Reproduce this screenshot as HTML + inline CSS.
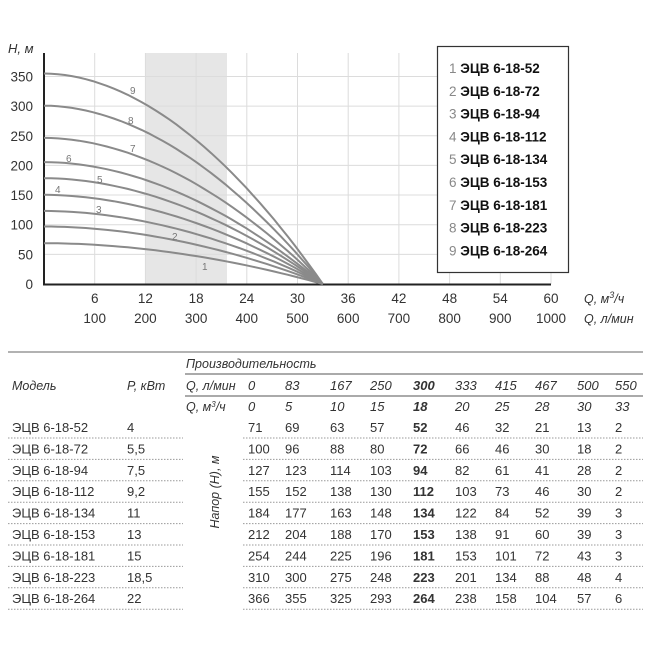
<!DOCTYPE html>
<html><head><meta charset="utf-8">
<style>
body{margin:0;background:#fff;width:650px;height:650px;overflow:hidden;font-family:"Liberation Sans",sans-serif;}
svg{position:absolute;left:0;top:0}
text{font-family:"Liberation Sans",sans-serif;}
</style></head><body>
<svg width="650" height="650" viewBox="0 0 650 650" id="s">
<rect x="145" y="53" width="82" height="231" fill="#e6e6e6"/>
<g id="grid" stroke="#dcdcdc" stroke-width="1"></g>
<line x1="44" y1="53" x2="44" y2="285" stroke="#222" stroke-width="2"/>
<line x1="43" y1="284.5" x2="551" y2="284.5" stroke="#222" stroke-width="2"/>
<g id="curves" fill="none" stroke="#8a8a8a" stroke-width="2"></g>
<g font-size="10" fill="#777">
<text x="130" y="94">9</text><text x="128" y="124">8</text><text x="130" y="152">7</text>
<text x="66" y="162">6</text><text x="97" y="183">5</text><text x="55" y="193">4</text>
<text x="96" y="213">3</text><text x="172" y="240">2</text><text x="202" y="270">1</text>
</g>
<text x="8" y="53" font-size="13" font-style="italic" fill="#333">H, м</text>
<g font-size="13.5" fill="#333" text-anchor="end" id="ylab"></g>
<g font-size="13.5" fill="#333" text-anchor="middle" id="xlab"></g>
<text x="584" y="303" font-size="12.5" font-style="italic" fill="#333">Q, м<tspan font-size="9" dy="-5">3</tspan><tspan dy="5">/ч</tspan></text>
<text x="584" y="323" font-size="12.5" font-style="italic" fill="#333">Q, л/мин</text>
<rect x="437.5" y="46.5" width="131" height="226" fill="#fff" stroke="#333" stroke-width="1.2"/>
<g font-size="13.5" font-weight="bold" fill="#111" id="leg"></g>

<line x1="8" y1="352" x2="643" y2="352" stroke="#999" stroke-width="1.5"/>
<g font-size="12.5" font-style="italic" fill="#333">
<text x="186" y="368">Производительность</text>
<text x="12" y="390">Модель</text>
<text x="127" y="390">P, кВт</text>
<text x="186" y="390">Q, л/мин</text>
<text x="186" y="411">Q, м<tspan font-size="8" dy="-4">3</tspan><tspan dy="4">/ч</tspan></text>
<text transform="translate(219,492) rotate(-90)" text-anchor="middle">Напор (H), м</text>
</g>
<line x1="185" y1="374" x2="643" y2="374" stroke="#555" stroke-width="1"/>
<line x1="185" y1="396" x2="643" y2="396" stroke="#555" stroke-width="1"/>
<g id="tab" font-size="13" fill="#333"></g>
</svg>
<script>
var NS="http://www.w3.org/2000/svg";
function el(p,t,a,txt){var e=document.createElementNS(NS,t);for(var k in a)e.setAttribute(k,a[k]);if(txt!==undefined)e.textContent=txt;p.appendChild(e);return e;}
var X=function(q){return 44+q*8.45},Y=function(h){return 284-h*0.593};
var g=document.getElementById('grid');
for(var i=1;i<=10;i++){var x=X(i*6);el(g,'line',{x1:x,y1:53,x2:x,y2:284});}
for(var h=50;h<=350;h+=50){el(g,'line',{x1:44,y1:Y(h),x2:437,y2:Y(h)});}
var yl=document.getElementById('ylab');
for(var h=0;h<=350;h+=50)el(yl,'text',{x:33,y:Y(h)+5},h);
var xl=document.getElementById('xlab');
for(var i=1;i<=10;i++){el(xl,'text',{x:X(i*6),y:303},i*6);el(xl,'text',{x:X(i*6),y:323},i*100);}
var Q=[0,5,10,15,18,20,25,28,30,33];
var D=[["ЭЦВ 6-18-52","4",[71,69,63,57,52,46,32,21,13,2]],
["ЭЦВ 6-18-72","5,5",[100,96,88,80,72,66,46,30,18,2]],
["ЭЦВ 6-18-94","7,5",[127,123,114,103,94,82,61,41,28,2]],
["ЭЦВ 6-18-112","9,2",[155,152,138,130,112,103,73,46,30,2]],
["ЭЦВ 6-18-134","11",[184,177,163,148,134,122,84,52,39,3]],
["ЭЦВ 6-18-153","13",[212,204,188,170,153,138,91,60,39,3]],
["ЭЦВ 6-18-181","15",[254,244,225,196,181,153,101,72,43,3]],
["ЭЦВ 6-18-223","18,5",[310,300,275,248,223,201,134,88,48,4]],
["ЭЦВ 6-18-264","22",[366,355,325,293,264,238,158,104,57,6]]];
var cg=document.getElementById('curves');
D.forEach(function(r){
 var top=r[2][0]*0.97;
 var pts=[];
 for(var k=0;k<=40;k++){var q=33*k/40;var t=q/33;var hh=top*(1-Math.pow(t,1.9));pts.push([X(q),Y(Math.max(hh,0))]);}
 el(cg,'polyline',{points:pts.map(function(p){return p[0].toFixed(1)+','+p[1].toFixed(1)}).join(' ')});
});
var lg=document.getElementById('leg');
for(var i=0;i<9;i++){var t=el(lg,'text',{x:449,y:73+i*22.8});el(t,'tspan',{fill:'#888','font-weight':'normal'},(i+1)+' ');el(t,'tspan',{},D[i][0]);}
var tb=document.getElementById('tab');
var cols=[248,285,330,370,413,455,495,535,577,615];
var lq=[0,83,167,250,300,333,415,467,500,550];
cols.forEach(function(c,j){
 el(tb,'text',{x:c,y:390,'font-style':'italic','font-weight':j==4?'bold':'normal'},lq[j]);
 el(tb,'text',{x:c,y:411,'font-style':'italic','font-weight':j==4?'bold':'normal'},Q[j]);
});
D.forEach(function(r,i){
 var y=432+i*21.4;
 el(tb,'text',{x:12,y:y},r[0]);el(tb,'text',{x:127,y:y},r[1]);
 r[2].forEach(function(v,j){el(tb,'text',{x:cols[j],y:y,'font-weight':j==4?'bold':'normal'},v);});
 el(tb,'line',{x1:8,y1:y+6,x2:183,y2:y+6,stroke:'#999','stroke-dasharray':'1.5,1.5'});
 el(tb,'line',{x1:243,y1:y+6,x2:643,y2:y+6,stroke:'#999','stroke-dasharray':'1.5,1.5'});
});
</script>
</body></html>
